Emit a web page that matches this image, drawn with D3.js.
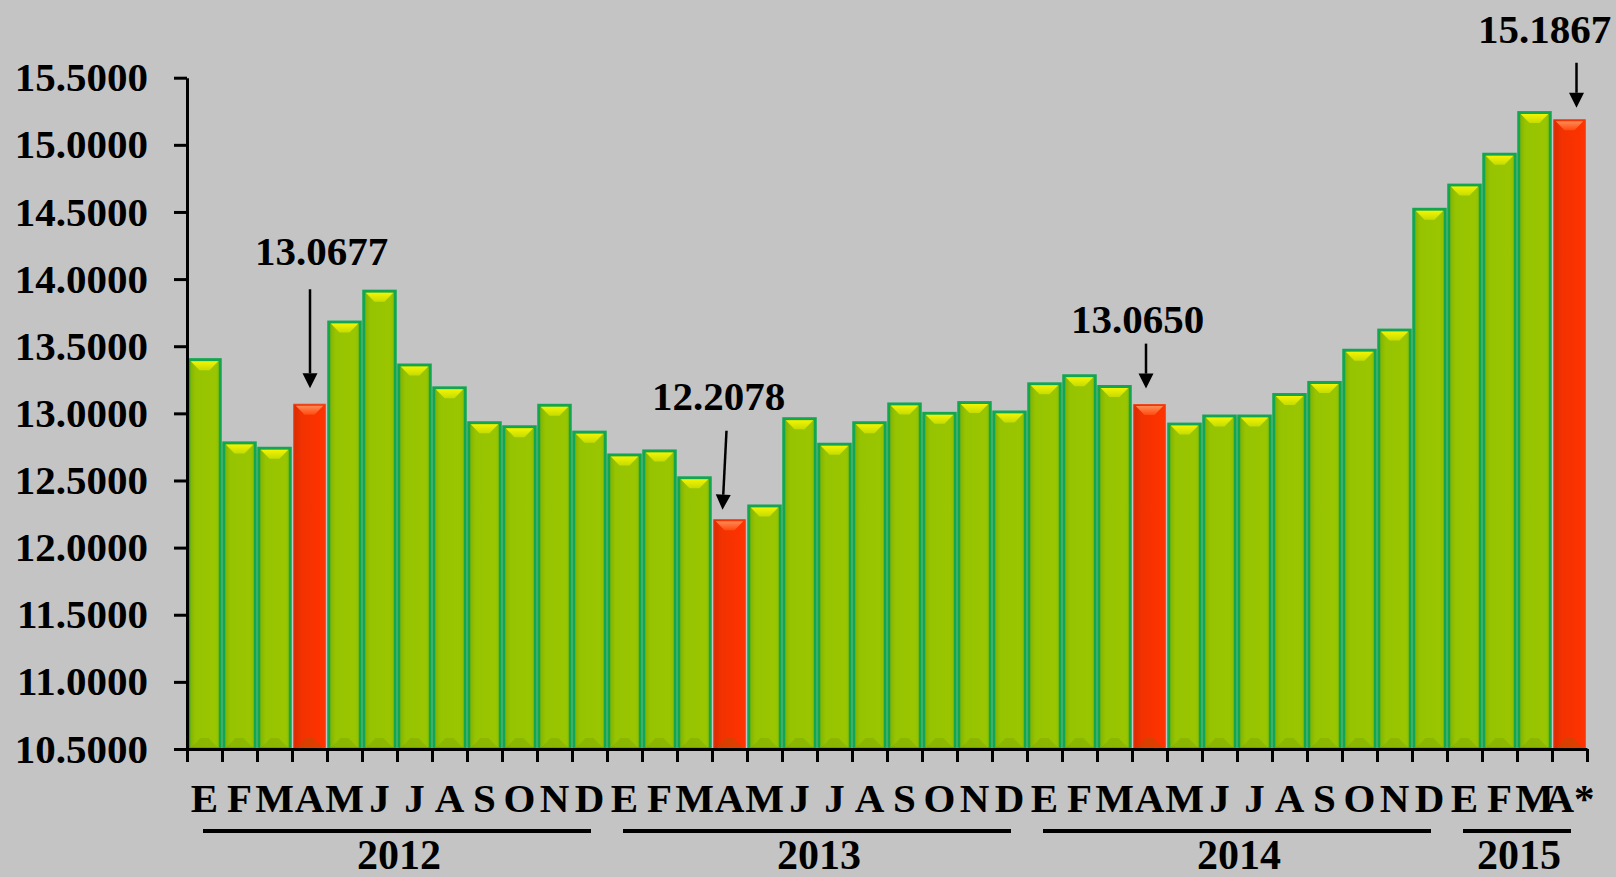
<!DOCTYPE html>
<html>
<head>
<meta charset="utf-8">
<script src="https://cdn.jsdelivr.net/npm/d3@7"></script>
<style>
  body { margin: 0; background: #c4c4c4; }
  svg { display: block; }
  text { font-family: "Liberation Serif", "Times New Roman", serif; font-weight: bold; fill: #000; }
</style>
</head>
<body>
<div id="chart"></div>
<script>
// monthly values
var years = ["2012", "2013", "2014", "2015"];
var monthLetters = ["E", "F", "M", "A", "M", "J", "J", "A", "S", "O", "N", "D"];
var values2012 = [13.40, 12.78, 12.74, 13.0677, 13.68, 13.91, 13.36, 13.19, 12.93, 12.90, 13.06, 12.86];
var values2013 = [12.69, 12.72, 12.52, 12.2078, 12.31, 12.96, 12.77, 12.93, 13.07, 13.00, 13.08, 13.01];
var values2014 = [13.22, 13.28, 13.20, 13.0650, 12.92, 12.98, 12.98, 13.14, 13.23, 13.47, 13.62, 14.52];
var values2015 = [14.70, 14.93, 15.24, 15.1867];
var labels2015 = ["E", "F", "M", "A*"];
var yTicks = [10.5, 11.0, 11.5, 12.0, 12.5, 13.0, 13.5, 14.0, 14.5, 15.0, 15.5];
// highlighted (red) bars = April of each year, with their callout text
var highlightIndex = [3, 15, 27, 39];
var highlightText = ["13.0677", "12.2078", "13.0650", "15.1867"];

// build flat list of bars
var yearValues = [values2012, values2013, values2014, values2015];
var data = [];
yearValues.forEach(function(vals, yi) {
  vals.forEach(function(v, mi) {
    data.push({
      i: data.length,
      year: years[yi],
      label: yi === 3 ? labels2015[mi] : monthLetters[mi],
      value: v
    });
  });
});

var svgWidth = 1616, svgHeight = 877;
var plotLeft = 187, plotRight = 1587, plotTop = 77.7, plotBottom = 749;
var fontSize = 41;
var fontFamily = "'Liberation Serif', 'Times New Roman', serif";

var svg = d3.select("#chart").append("svg")
  .attr("width", svgWidth)
  .attr("height", svgHeight);

var defs = svg.append("defs");

// green bar body: darker strip on the left
var gGreen = defs.append("linearGradient").attr("id", "gGreen").attr("x1", 0).attr("x2", 1).attr("y1", 0).attr("y2", 0);
gGreen.append("stop").attr("offset", "0%").attr("stop-color", "#7fae00");
gGreen.append("stop").attr("offset", "22%").attr("stop-color", "#97c400");
gGreen.append("stop").attr("offset", "85%").attr("stop-color", "#99c600");
gGreen.append("stop").attr("offset", "100%").attr("stop-color", "#8cba00");

var gRed = defs.append("linearGradient").attr("id", "gRed").attr("x1", 0).attr("x2", 1).attr("y1", 0).attr("y2", 0);
gRed.append("stop").attr("offset", "0%").attr("stop-color", "#d92a00");
gRed.append("stop").attr("offset", "25%").attr("stop-color", "#f23200");
gRed.append("stop").attr("offset", "100%").attr("stop-color", "#ff3300");

var gGreenTop = defs.append("linearGradient").attr("id", "gGreenTop").attr("x1", 0).attr("x2", 0).attr("y1", 0).attr("y2", 1);
gGreenTop.append("stop").attr("offset", "0%").attr("stop-color", "#f4f400");
gGreenTop.append("stop").attr("offset", "100%").attr("stop-color", "#c4dc00");

var gRedTop = defs.append("linearGradient").attr("id", "gRedTop").attr("x1", 0).attr("x2", 0).attr("y1", 0).attr("y2", 1);
gRedTop.append("stop").attr("offset", "0%").attr("stop-color", "#ff8a55");
gRedTop.append("stop").attr("offset", "100%").attr("stop-color", "#ff4a10");

// scales
var x = d3.scaleBand()
  .domain(data.map(function(d) { return d.i; }))
  .range([plotLeft, plotRight])
  .paddingInner(0.1)
  .paddingOuter(0.05);

var xEdge = d3.scaleLinear()
  .domain([0, data.length])
  .range([plotLeft, plotRight]);

var y = d3.scaleLinear()
  .domain([10.5, 15.5])
  .range([plotBottom, plotTop]);

function isRed(d) { return highlightIndex.indexOf(d.i) >= 0; }

// bars
var bars = svg.append("g").selectAll("g")
  .data(data)
  .enter()
  .append("g");

bars.append("rect")
  .attr("x", function(d) { return x(d.i); })
  .attr("y", function(d) { return y(d.value); })
  .attr("width", x.bandwidth())
  .attr("height", function(d) { return plotBottom - y(d.value); })
  .attr("fill", function(d) { return isRed(d) ? "url(#gRed)" : "url(#gGreen)"; })
  .attr("stroke", function(d) { return isRed(d) ? "#f04010" : "#12a650"; })
  .attr("stroke-width", function(d) { return isRed(d) ? 1 : 3; });

// top bevel
bars.append("polygon")
  .attr("points", function(d) {
    var x0 = x(d.i) + 2, x1 = x(d.i) + x.bandwidth() - 2, y0 = y(d.value) + 1.5, h = 9;
    var mid = (x0 + x1) / 2;
    return [[x0, y0], [x1, y0], [mid + 5, y0 + h], [mid - 5, y0 + h]].join(" ");
  })
  .attr("fill", function(d) { return isRed(d) ? "url(#gRedTop)" : "url(#gGreenTop)"; });

// bottom bevel shading
bars.append("polygon")
  .attr("points", function(d) {
    var x0 = x(d.i) + 2, x1 = x(d.i) + x.bandwidth() - 2, y0 = plotBottom - 1;
    var mid = (x0 + x1) / 2;
    return [[x0, y0], [x0 + 6, y0 - 6], [mid - 4, y0 - 10], [mid + 4, y0 - 10], [x1 - 6, y0 - 6], [x1, y0]].join(" ");
  })
  .attr("fill", "#5a7a00")
  .attr("opacity", 0.18);

// y axis
var yAxis = svg.append("g")
  .attr("transform", "translate(" + plotLeft + ",0)")
  .call(d3.axisLeft(y).tickValues(yTicks).tickFormat(d3.format(".4f")).tickSize(13).tickSizeOuter(0).tickPadding(26));
yAxis.selectAll("path, line").attr("stroke", "#000").attr("stroke-width", 3);
yAxis.selectAll("text")
  .style("font-size", fontSize + "px")
  .style("font-family", fontFamily)
  .style("font-weight", "bold");

// x axis: ticks at band edges
var xAxis = svg.append("g")
  .attr("transform", "translate(0," + plotBottom + ")")
  .call(d3.axisBottom(xEdge).tickValues(d3.range(data.length + 1)).tickFormat("").tickSize(13).tickSizeOuter(0));
xAxis.selectAll("path, line").attr("stroke", "#000").attr("stroke-width", 3);

// month letters
var xLabels = svg.append("g")
  .attr("transform", "translate(0," + plotBottom + ")")
  .call(d3.axisBottom(x).tickFormat(function(i) { return data[i].label; }).tickSize(0));
xLabels.select(".domain").remove();
xLabels.selectAll("text")
  .attr("y", 63)
  .attr("dy", 0)
  .style("font-size", fontSize + "px")
  .style("font-family", fontFamily)
  .style("font-weight", "bold");

// year groups
var yearGroups = years.map(function(yr) {
  var items = data.filter(function(d) { return d.year === yr; });
  return { year: yr, first: items[0].i, last: items[items.length - 1].i };
});

svg.append("g").selectAll("line")
  .data(yearGroups)
  .enter()
  .append("line")
  .attr("x1", function(d) { return xEdge(d.first) + 16; })
  .attr("x2", function(d) { return xEdge(d.last + 1) - 16; })
  .attr("y1", 831)
  .attr("y2", 831)
  .attr("stroke", "#000")
  .attr("stroke-width", 4);

svg.append("g").selectAll("text")
  .data(yearGroups)
  .enter()
  .append("text")
  .attr("x", function(d) { return (xEdge(d.first) + xEdge(d.last + 1)) / 2 + 2; })
  .attr("y", 869)
  .attr("text-anchor", "middle")
  .style("font-size", "42px")
  .text(function(d) { return d.year; });

// callouts: text offset, arrow offsets (top / tip), arrow length, gap above bar, text gap
var calloutLayout = [
  { textDx: 12, topDx: 0.5, tipDx: 0.5, len: 99, gap: 16, textGap: 24 },
  { textDx: -11, topDx: -3, tipDx: -7, len: 79, gap: 10, textGap: 21 },
  { textDx: -12, topDx: -3.5, tipDx: -3.5, len: 45, gap: 16, textGap: 11 },
  { textDx: -25, topDx: 7, tipDx: 7, len: 45, gap: 12, textGap: 20 }
];

var callouts = svg.append("g").selectAll("g")
  .data(highlightIndex.map(function(idx, k) {
    return { d: data[idx], text: highlightText[k], lay: calloutLayout[k] };
  }))
  .enter()
  .append("g");

callouts.each(function(c) {
  var g = d3.select(this);
  var cx = x(c.d.i) + x.bandwidth() / 2;
  var tipY = y(c.d.value) - c.lay.gap;
  var topY = tipY - c.lay.len;
  var tx = cx + c.lay.tipDx, sx = cx + c.lay.topDx;
  var ang = Math.atan2(tipY - topY, tx - sx);
  var hl = 15, hw = 7.5;
  var bx = tx - hl * Math.cos(ang), by = tipY - hl * Math.sin(ang);
  var px = -Math.sin(ang) * hw, py = Math.cos(ang) * hw;

  g.append("line")
    .attr("x1", sx).attr("y1", topY)
    .attr("x2", bx).attr("y2", by)
    .attr("stroke", "#000")
    .attr("stroke-width", 2.5);

  g.append("polygon")
    .attr("points", [[tx, tipY], [bx + px, by + py], [bx - px, by - py]].join(" "))
    .attr("fill", "#000");

  g.append("text")
    .attr("x", cx + c.lay.textDx)
    .attr("y", topY - c.lay.textGap)
    .attr("text-anchor", "middle")
    .style("font-size", fontSize + "px")
    .text(c.text);
});
</script>
</body>
</html>
